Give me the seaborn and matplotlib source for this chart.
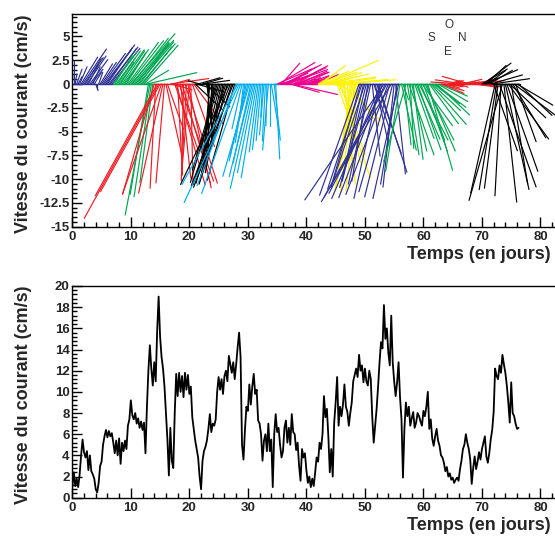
import numpy as np
import pandas as pd
import matplotlib
matplotlib.use("Agg")
import matplotlib.pyplot as plt
from matplotlib.ticker import MultipleLocator, FuncFormatter
import seaborn as sns

# Pas d'échantillonnage : 6 heures (0.25 jour)
pas_jours = 0.25

# Vitesse du courant (cm/s), t = 0, 0.25, ..., 76.25 jours (4 valeurs par jour)
vitesse = [
    1.0, 2.4, 1.1, 1.8,      # 0
    1.0, 2.2, 4.0, 5.5,      # 1
    4.3, 3.8, 4.4, 2.6,      # 2
    4.0, 2.5, 2.2, 1.8,      # 3
    0.8, 0.5, 1.4, 3.0,      # 4
    3.4, 5.0, 5.8, 6.4,      # 5
    5.7, 6.3, 5.8, 6.1,      # 6
    5.2, 4.2, 5.4, 4.0,      # 7
    5.6, 3.2, 5.2, 4.4,      # 8
    5.4, 4.6, 6.8, 7.4,      # 9
    9.2, 7.8, 7.4, 8.0,      # 10
    7.0, 7.5, 6.6, 7.2,      # 11
    6.4, 7.1, 4.2, 8.6,      # 12
    12.0, 14.4, 12.2, 10.6,  # 13
    12.8, 11.0, 15.8, 19.0,  # 14
    15.2, 13.3, 12.2, 10.5,  # 15
    8.0, 5.5, 2.1, 6.6,      # 16
    3.5, 2.8, 8.0, 11.7,     # 17
    9.6, 11.8, 10.0, 11.5,   # 18
    9.5, 11.8, 10.2, 11.6,   # 19
    9.8, 10.5, 7.6, 6.5,     # 20
    5.4, 4.6, 3.8, 2.0,      # 21
    0.8, 3.5, 4.4, 4.8,      # 22
    5.4, 6.5, 7.9, 6.2,      # 23
    7.0, 6.8, 7.4, 10.0,     # 24
    11.4, 10.2, 11.2, 9.8,   # 25
    11.5, 12.0, 11.0, 13.4,  # 26
    12.6, 11.8, 12.8, 11.2,  # 27
    12.6, 14.2, 15.6, 13.3,  # 28
    5.0, 3.6, 6.4, 8.6,      # 29
    8.2, 10.7, 8.8, 10.5,    # 30
    11.7, 9.8, 10.2, 7.3,    # 31
    7.0, 6.0, 3.5, 5.4,      # 32
    6.0, 4.4, 7.0, 4.4,      # 33
    5.5, 1.0, 6.0, 7.9,      # 34
    6.2, 6.6, 5.0, 3.8,      # 35
    4.4, 6.6, 7.3, 5.2,      # 36
    6.6, 5.0, 7.9, 6.2,      # 37
    6.0, 4.5, 5.2, 3.0,      # 38
    1.6, 4.6, 3.8, 4.2,      # 39
    2.6, 1.4, 2.0, 1.0,      # 40
    1.8, 1.1, 2.4, 3.8,      # 41
    3.4, 5.2, 4.6, 6.0,      # 42
    9.6, 7.6, 8.4, 5.8,      # 43
    2.4, 4.6, 2.0, 7.1,      # 44
    9.0, 11.4, 6.8, 8.6,     # 45
    7.7, 8.8, 10.7, 8.6,     # 46
    8.1, 6.8, 8.0, 9.0,      # 47
    11.0, 11.6, 12.2, 11.4,  # 48
    13.5, 12.0, 12.5, 10.9,  # 49
    12.2, 11.0, 10.6, 12.0,  # 50
    11.2, 7.7, 5.2, 6.8,     # 51
    8.4, 10.5, 12.8, 14.7,   # 52
    14.1, 18.2, 15.0, 16.0,  # 53
    13.7, 12.5, 17.2, 12.8,  # 54
    11.0, 9.6, 10.9, 12.8,   # 55
    9.5, 7.4, 1.9, 6.5,      # 56
    9.0, 7.7, 8.6, 6.8,      # 57
    7.5, 8.1, 6.6, 7.1,      # 58
    8.0, 7.7, 7.2, 6.8,      # 59
    8.2, 7.7, 8.6, 10.0,     # 60
    6.5, 7.4, 5.6, 4.9,      # 61
    5.8, 6.5, 5.4, 4.9,      # 62
    4.0, 3.8, 3.3, 2.5,      # 63
    2.9, 2.0, 2.3, 1.7,      # 64
    1.9, 1.4, 1.7, 1.9,      # 65
    1.6, 2.7, 3.5, 4.6,      # 66
    5.0, 6.0, 5.2, 4.6,      # 67
    3.6, 1.3, 2.8, 3.9,      # 68
    2.7, 3.4, 4.3, 3.6,      # 69
    4.6, 5.2, 5.8, 3.9,      # 70
    3.3, 4.2, 5.5, 6.4,      # 71
    8.1, 12.2, 11.5, 11.2,   # 72
    12.5, 11.8, 13.5, 12.6,  # 73
    11.8, 10.6, 9.0, 7.1,    # 74
    10.9, 8.0, 7.7, 7.0,     # 75
    6.5, 6.6,                # 76
]

# Direction du courant dans le plan du graphe (degrés, 0 = vers N à droite, 90 = vers O en haut)
direction = [
    85, 90, 75, 60,      # 0
    50, 55, 45, 42,      # 1
    40, 45, 42, 50,      # 2
    40, 38, 55, 45,      # 3
    300, 270, 60, 45,    # 4
    42, 40, 38, 40,      # 5
    42, 38, 40, 38,      # 6
    40, 45, 40, 42,      # 7
    40, 45, 42, 40,      # 8
    42, 45, 40, 38,      # 9
    35, 38, 36, 35,      # 10
    38, 36, 40, 36,      # 11
    38, 35, 20, 8,       # 12
    255, 253, 256, 258,  # 13
    245, 265, 228, 228,  # 14
    228, 240, 250, 262,  # 15
    290, 300, 0, 5,      # 16
    350, 10, 300, 295,   # 17
    275, 300, 280, 295,  # 18
    268, 298, 265, 290,  # 19
    262, 272, 300, 320,  # 20
    330, 350, 10, 170,   # 21
    180, 10, 5, 330,     # 22
    280, 270, 262, 270,  # 23
    258, 255, 250, 245,  # 24
    245, 248, 250, 252,  # 25
    245, 242, 245, 232,  # 26
    238, 242, 238, 245,  # 27
    238, 228, 233, 240,  # 28
    250, 260, 255, 250,  # 29
    248, 245, 250, 248,  # 30
    250, 252, 255, 258,  # 31
    260, 262, 265, 262,  # 32
    265, 268, 262, 270,  # 33
    285, 0, 280, 275,    # 34
    15, 20, 10, 35,      # 35
    15, 18, 12, 20,      # 36
    15, 350, 352, 18,    # 37
    12, 20, 15, 10,      # 38
    20, 15, 8, 12,       # 39
    5, 10, 20, 0,        # 40
    15, 30, 20, 15,      # 41
    20, 15, 25, 12,      # 42
    15, 8, 5, 12,        # 43
    20, 10, 350, 5,      # 44
    3, 300, 310, 300,    # 45
    330, 290, 280, 3,    # 46
    275, 320, 260, 255,  # 47
    255, 258, 252, 260,  # 48
    240, 245, 242, 250,  # 49
    242, 248, 255, 245,  # 50
    250, 280, 300, 290,  # 51
    300, 298, 250, 235,  # 52
    238, 222, 230, 228,  # 53
    238, 245, 226, 248,  # 54
    260, 280, 255, 250,  # 55
    255, 290, 300, 280,  # 56
    245, 285, 300, 275,  # 57
    290, 282, 300, 305,  # 58
    300, 310, 305, 320,  # 59
    300, 310, 305, 295,  # 60
    320, 325, 330, 335,  # 61
    335, 330, 340, 345,  # 62
    350, 345, 355, 350,  # 63
    0, 10, 355, 5,       # 64
    10, 15, 5, 350,      # 65
    0, 5, 8, 3,          # 66
    175, 178, 5, 170,    # 67
    180, 10, 5, 355,     # 68
    0, 10, 5, 355,       # 69
    20, 25, 15, 30,      # 70
    25, 20, 10, 5,       # 71
    300, 250, 255, 258,  # 72
    300, 265, 245, 280,  # 73
    290, 300, 320, 330,  # 74
    285, 315, 335, 300,  # 75
    340, 330,            # 76
]

# Une couleur par semaine
couleurs_semaine = ["#2E3192", "#00A651", "#ED1C24", "#000000", "#00AEEF",
                    "#EC008C", "#FFF200", "#2E3192", "#00A651", "#ED1C24",
                    "#000000"]

ticks_x = [0, 10, 20, 30, 40, 50, 60, 70, 80]
rose = {"O": (64.4, 6.2), "S": (61.3, 4.8), "N": (66.6, 4.8), "E": (64.2, 3.4)}

# ---------------------------------------------------------------------------
v = np.asarray(vitesse, dtype=float)
ang = np.deg2rad(np.asarray(direction, dtype=float))
temps = np.arange(len(v)) * pas_jours
semaine = (temps // 7).astype(int)
du = v * np.cos(ang)
dv = v * np.sin(ang)

# Table des bâtonnets : deux points (origine, extrémité) par échantillon
batons = pd.DataFrame({
    "x": np.concatenate([temps, temps + du]),
    "y": np.concatenate([np.zeros_like(v), dv]),
    "id": np.concatenate([np.arange(len(v)), np.arange(len(v))]),
    "semaine": np.concatenate([semaine, semaine]),
    "ordre": np.concatenate([np.zeros(len(v)), np.ones(len(v))]),
}).sort_values(["id", "ordre"])

serie = pd.DataFrame({"temps": temps, "vitesse": v})

sns.set_style("white")
plt.rcParams["font.family"] = ["Liberation Sans", "DejaVu Sans"]
plt.rcParams["axes.unicode_minus"] = False

fig = plt.figure(figsize=(5.55, 5.39), dpi=100)
ax1 = fig.add_axes([0.1303, 0.5794, 0.872, 0.3941])
ax2 = fig.add_axes([0.1303, 0.0766, 0.872, 0.3928])

palette = {k: couleurs_semaine[k] for k in sorted(set(semaine))}

# Ligne de base colorée par semaine
for k in sorted(set(semaine)):
    sel = temps[semaine == k]
    ax1.plot([sel.min(), sel.max() + pas_jours], [0, 0],
             color=couleurs_semaine[k], lw=1.0, zorder=1)

sns.lineplot(data=batons, x="x", y="y", units="id", hue="semaine",
             palette=palette, estimator=None, sort=False, lw=0.85,
             legend=False, ax=ax1)

sns.lineplot(data=serie, x="temps", y="vitesse", color="black", lw=1.3,
             ax=ax2)

fmt = FuncFormatter(lambda val, pos: f"{val:g}")

for ax, ylim, ymaj, ymin in [(ax1, (-15, 7.33), 2.5, 0.5),
                            (ax2, (0, 20), 2, 0.4)]:
    ax.set_xlim(0, 82.7)
    ax.set_ylim(*ylim)
    ax.set_xticks(ticks_x)
    ax.xaxis.set_minor_locator(MultipleLocator(2))
    ax.yaxis.set_major_locator(MultipleLocator(ymaj))
    ax.yaxis.set_minor_locator(MultipleLocator(ymin))
    ax.yaxis.set_major_formatter(fmt)
    ax.xaxis.set_major_formatter(fmt)
    ax.tick_params(which="both", direction="in", top=False, right=False,
                   bottom=True, left=True, width=1, color="black")
    ax.tick_params(which="major", length=7)
    ax.tick_params(which="minor", length=3.5)
    ax.tick_params(axis="x", which="major", pad=3, labelsize=9.5)
    ax.tick_params(axis="y", which="major", pad=2, labelsize=9.5)
    for lab in ax.get_xticklabels() + ax.get_yticklabels():
        lab.set_fontweight("bold")
    for sp in ax.spines.values():
        sp.set_visible(True)
        sp.set_color("black")
        sp.set_linewidth(1.0)
    ax.set_xlabel("Temps (en jours)", fontsize=13, fontweight="bold",
                  loc="right")
    ax.set_ylabel("Vitesse du courant (cm/s)", fontsize=13,
                  fontweight="bold", loc="top")
    ax.yaxis.set_label_coords(-0.084, 1.0)

ax1.xaxis.set_label_coords(0.989, -0.092)
ax2.xaxis.set_label_coords(0.989, -0.090)

for lettre, (xx, yy) in rose.items():
    ax1.text(xx, yy, lettre, ha="center", va="center", fontsize=8.5,
             color="#333333")

fig.savefig("out.png", dpi=100)
